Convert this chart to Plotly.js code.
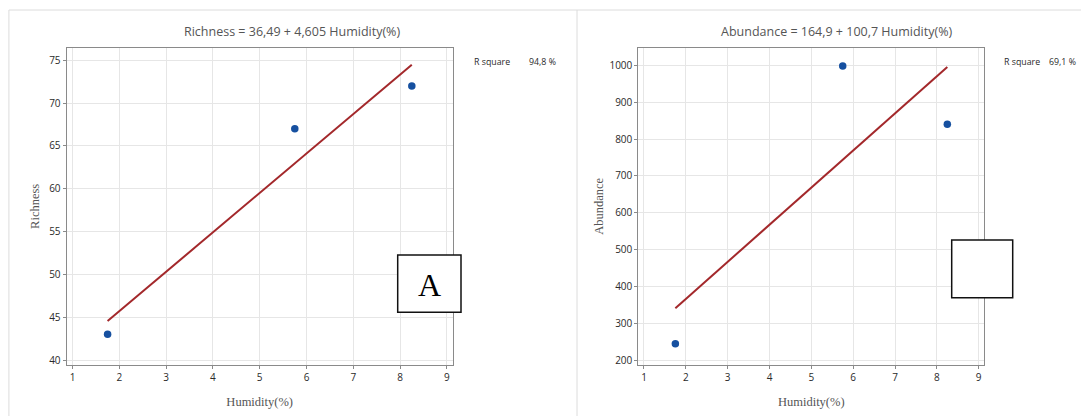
<!DOCTYPE html>
<html><head><meta charset="utf-8">
<script src="https://cdn.plot.ly/plotly-3.0.1.min.js"></script>
<style>html,body{margin:0;padding:0;background:#fff}#c{width:1081px;height:416px}</style>
</head><body><div id="c"></div>
<script>
const humidity = [1.75, 5.75, 8.25];
const richness = [43, 67, 72];
const abundance = [245, 998, 840];
const fitX = [1.75, 8.25];
const richnessFit = [44.55, 74.48];
const abundanceFit = [341.1, 995.7];
const xTicks = [1, 2, 3, 4, 5, 6, 7, 8, 9];
const richTicks = [40, 45, 50, 55, 60, 65, 70, 75];
const abunTicks = [200, 300, 400, 500, 600, 700, 800, 900, 1000];
const titles = ["Richness = 36,49 + 4,605 Humidity(%)", "Abundance = 164,9 + 100,7 Humidity(%)"];
const rsq = ["94,8 %", "69,1 %"];

const W = 1081, H = 416;
const px = v => v / W, py = v => 1 - v / H;
const ptColor = '#1650a0', lineColor = '#a3282b';
const tickFont = {family: 'Open Sans, Noto Sans, sans-serif', size: 10, color: '#2a2a2a'};
const axTitleFont = {family: 'Liberation Serif, DejaVu Serif, serif', size: 12.5, color: '#555'};
const rFont = {family: 'Open Sans, Noto Sans, sans-serif', size: 8.8, color: '#2a2a2a'};

const traces = [
  {x: humidity, y: richness, mode: 'markers', type: 'scatter', marker: {color: ptColor, size: 7.5}, xaxis: 'x', yaxis: 'y'},
  {x: fitX, y: richnessFit, mode: 'lines', type: 'scatter', line: {color: lineColor, width: 2}, xaxis: 'x', yaxis: 'y'},
  {x: humidity, y: abundance, mode: 'markers', type: 'scatter', marker: {color: ptColor, size: 7.5}, xaxis: 'x2', yaxis: 'y2'},
  {x: fitX, y: abundanceFit, mode: 'lines', type: 'scatter', line: {color: lineColor, width: 2}, xaxis: 'x2', yaxis: 'y2'}
];

const axBase = {showline: true, mirror: true, linecolor: '#8a8a8a', linewidth: 1, ticks: 'outside', ticklen: 3, tickcolor: '#8a8a8a',
  gridcolor: '#e6e6e6', gridwidth: 1, zeroline: false, tickfont: tickFont, automargin: false};

const layout = {
  width: W, height: H, margin: {l: 0, r: 0, t: 0, b: 0}, paper_bgcolor: '#fff', plot_bgcolor: '#fff', showlegend: false,
  xaxis: Object.assign({}, axBase, {domain: [px(66.6), px(452.8)], range: [0.874, 9.126], tickvals: xTicks, anchor: 'y',
    title: {text: 'Humidity(%)', font: axTitleFont, standoff: 14}}),
  yaxis: Object.assign({}, axBase, {domain: [py(365), py(47.7)], range: [39.42, 76.47], tickvals: richTicks, anchor: 'x',
    title: {text: 'Richness', font: axTitleFont, standoff: 6}}),
  xaxis2: Object.assign({}, axBase, {domain: [px(638.3), px(984.3)], range: [0.864, 9.134], tickvals: xTicks, anchor: 'y2',
    title: {text: 'Humidity(%)', font: axTitleFont, standoff: 14}}),
  yaxis2: Object.assign({}, axBase, {domain: [py(365), py(47.7)], range: [187.3, 1047.7], tickvals: abunTicks, anchor: 'x2',
    title: {text: 'Abundance', font: axTitleFont, standoff: 3}}),
  annotations: [
    {text: titles[0], x: px(292), y: py(32), xref: 'paper', yref: 'paper', showarrow: false, xanchor: 'center', yanchor: 'middle',
      font: {family: 'Open Sans, Noto Sans, sans-serif', size: 12.5, color: '#555'}},
    {text: titles[1], x: px(836.7), y: py(32), xref: 'paper', yref: 'paper', showarrow: false, xanchor: 'center', yanchor: 'middle',
      font: {family: 'Open Sans, Noto Sans, sans-serif', size: 12.5, color: '#555'}},
    {text: 'R square', x: px(471.7), y: py(62), xref: 'paper', yref: 'paper', showarrow: false, xanchor: 'left', yanchor: 'middle', font: rFont},
    {text: rsq[0], x: px(558), y: py(62), xref: 'paper', yref: 'paper', showarrow: false, xanchor: 'right', yanchor: 'middle', font: rFont},
    {text: 'R square', x: px(1001.7), y: py(62), xref: 'paper', yref: 'paper', showarrow: false, xanchor: 'left', yanchor: 'middle', font: rFont},
    {text: rsq[1], x: px(1078), y: py(62), xref: 'paper', yref: 'paper', showarrow: false, xanchor: 'right', yanchor: 'middle', font: rFont},
    {text: 'A', x: px(429.4), y: py(284.5), xref: 'paper', yref: 'paper', showarrow: false, xanchor: 'center', yanchor: 'middle',
      font: {family: 'Liberation Serif, DejaVu Serif, serif', size: 32, color: '#000'}}
  ],
  shapes: [
    {type: 'line', xref: 'paper', yref: 'paper', x0: px(8.9), x1: 1, y0: py(10), y1: py(10), line: {color: '#dcdcdc', width: 1}, layer: 'below'},
    {type: 'line', xref: 'paper', yref: 'paper', x0: px(8.9), x1: px(8.9), y0: py(10), y1: 0, line: {color: '#dcdcdc', width: 1}, layer: 'below'},
    {type: 'line', xref: 'paper', yref: 'paper', x0: px(577), x1: px(577), y0: py(10), y1: 0, line: {color: '#dcdcdc', width: 1}, layer: 'below'},
    {type: 'rect', xref: 'paper', yref: 'paper', x0: px(397.7), x1: px(461), y0: py(255), y1: py(312.3), line: {color: '#111', width: 1.5}, fillcolor: '#fff', layer: 'above'},
    {type: 'rect', xref: 'paper', yref: 'paper', x0: px(951.7), x1: px(1012.7), y0: py(240), y1: py(297.7), line: {color: '#111', width: 1.5}, fillcolor: '#fff', layer: 'above'}
  ]
};
Plotly.newPlot('c', traces, layout, {displayModeBar: false, staticPlot: true});
</script></body></html>
